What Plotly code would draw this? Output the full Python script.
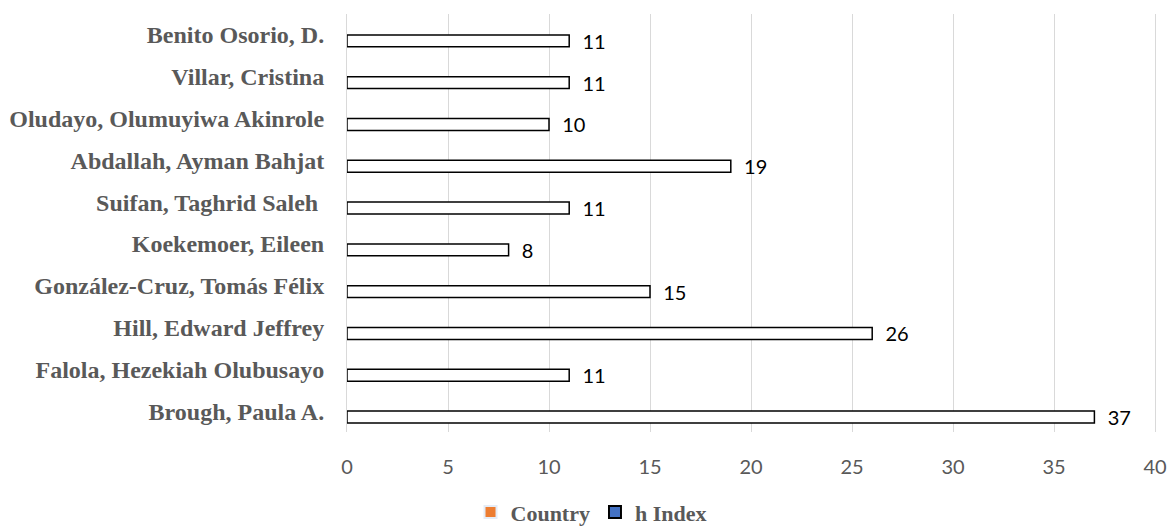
import plotly.graph_objects as go

authors = [
    "Brough, Paula A.",
    "Falola, Hezekiah Olubusayo",
    "Hill, Edward Jeffrey",
    "González-Cruz, Tomás Félix",
    "Koekemoer, Eileen",
    "Suifan, Taghrid Saleh ",
    "Abdallah, Ayman Bahjat",
    "Oludayo, Olumuyiwa Akinrole",
    "Villar, Cristina",
    "Benito Osorio, D.",
]
h_index = [37, 11, 26, 15, 8, 11, 19, 10, 11, 11]
country = [None] * len(authors)
x_ticks = [0, 5, 10, 15, 20, 25, 30, 35, 40]

fig = go.Figure()
fig.add_trace(go.Bar(
    y=authors, x=h_index, orientation="h", name="h Index",
    marker=dict(color="white", line=dict(color="black", width=1.5)),
    text=["  " + str(v) for v in h_index], textposition="outside",
    constraintext="none",
    textfont=dict(family="Lato", size=20, color="black"),
    cliponaxis=False, showlegend=False,
))
fig.add_trace(go.Bar(
    y=authors, x=country, orientation="h", name="Country",
    marker=dict(color="#ED7D31"), legendrank=1,
))
fig.add_trace(go.Scatter(
    x=[None], y=[None], mode="markers", name="h Index",
    marker=dict(symbol="square", size=13, color="#4472C4",
                line=dict(color="black", width=1.5)),
    legendrank=2,
))

fig.update_layout(
    width=1167, height=527, autosize=False,
    margin=dict(l=347, r=12, t=14, b=95, autoexpand=False),
    paper_bgcolor="white", plot_bgcolor="white",
    barmode="group", bargap=0.43,
    showlegend=True,
    legend=dict(orientation="h", x=0.302, xref="paper", xanchor="center",
                y=-0.192, yanchor="middle",
                font=dict(family="Liberation Serif", size=22, color="#595959",
                          weight="bold"),
                itemsizing="constant", traceorder="normal"),
    xaxis=dict(range=[0, 40], tickvals=x_ticks, showgrid=True,
               gridcolor="#D9D9D9", gridwidth=1, zeroline=False,
               showline=False, ticklabelstandoff=21,
               ticklabeloverflow="allow",
               tickfont=dict(family="Lato", size=20, color="#595959")),
    yaxis=dict(categoryorder="array", categoryarray=authors,
               showgrid=False, zeroline=False,
               showline=True, mirror=True, linecolor="#D9D9D9", linewidth=1,
               ticklabelstandoff=17,
               tickfont=dict(family="Liberation Serif", size=24, color="#595959",
                             weight="bold")),
)
fig.write_html("out.html")
